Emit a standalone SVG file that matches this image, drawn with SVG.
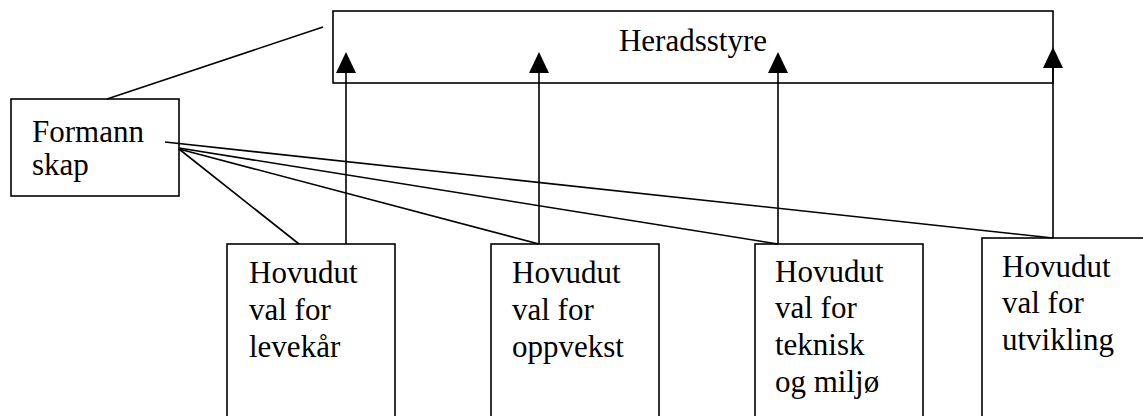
<svg xmlns="http://www.w3.org/2000/svg" width="1143" height="416" viewBox="0 0 1143 416">
<style>
.box{fill:#fff;stroke:#000;stroke-width:1.6}
.ln{stroke:#000;stroke-width:1.6;fill:none}
.t{font-family:'Liberation Serif','Times New Roman',Tinos,'DejaVu Serif',serif;font-size:31px;fill:#000}
</style>
<rect width="1143" height="416" fill="#fff"/>
<g id="heradsstyre">
<rect class="box" x="333" y="11" width="720" height="72"/>
<text class="t" x="693" y="51" text-anchor="middle">Heradsstyre</text>
</g>
<g id="formannskap">
<rect class="box" x="11" y="99" width="168" height="97"/>
<text class="t" x="32" y="142">Formann</text>
<text class="t" x="32" y="175">skap</text>
</g>
<g id="levekar">
<rect class="box" x="227" y="244" width="168" height="200"/>
<text class="t" x="249" y="283">Hovudut</text>
<text class="t" x="249" y="320">val for</text>
<text class="t" x="249" y="357">levekår</text>
</g>
<g id="oppvekst">
<rect class="box" x="491" y="244" width="168" height="200"/>
<text class="t" x="512" y="283">Hovudut</text>
<text class="t" x="512" y="320">val for</text>
<text class="t" x="512" y="357">oppvekst</text>
</g>
<g id="teknisk">
<rect class="box" x="755" y="244" width="168" height="200"/>
<text class="t" x="775" y="282">Hovudut</text>
<text class="t" x="775" y="318">val for</text>
<text class="t" x="775" y="355">teknisk</text>
<text class="t" x="775" y="392">og miljø</text>
</g>
<g id="utvikling">
<rect class="box" x="982" y="238" width="175" height="200"/>
<text class="t" x="1002" y="277">Hovudut</text>
<text class="t" x="1002" y="313">val for</text>
<text class="t" x="1002" y="350">utvikling</text>
</g>
<g id="connectors">
<line class="ln" x1="107" y1="99" x2="323" y2="27"/>
<line class="ln" x1="179" y1="149" x2="299" y2="244"/>
<line class="ln" x1="179" y1="149" x2="539" y2="244"/>
<line class="ln" x1="179" y1="148" x2="778" y2="244"/>
<line class="ln" x1="165" y1="142" x2="1053" y2="238"/>
<line class="ln" x1="346" y1="244" x2="346" y2="72"/>
<line class="ln" x1="539" y1="244" x2="539" y2="72"/>
<line class="ln" x1="778" y1="244" x2="778" y2="72"/>
<line class="ln" x1="1053" y1="238" x2="1053" y2="67"/>
<path d="M346,52 L356,73 L336,73 Z"/>
<path d="M539,52 L549,73 L529,73 Z"/>
<path d="M778,52 L788,73 L768,73 Z"/>
<path d="M1053,47 L1063,68 L1043,68 Z"/>
</g>
</svg>
